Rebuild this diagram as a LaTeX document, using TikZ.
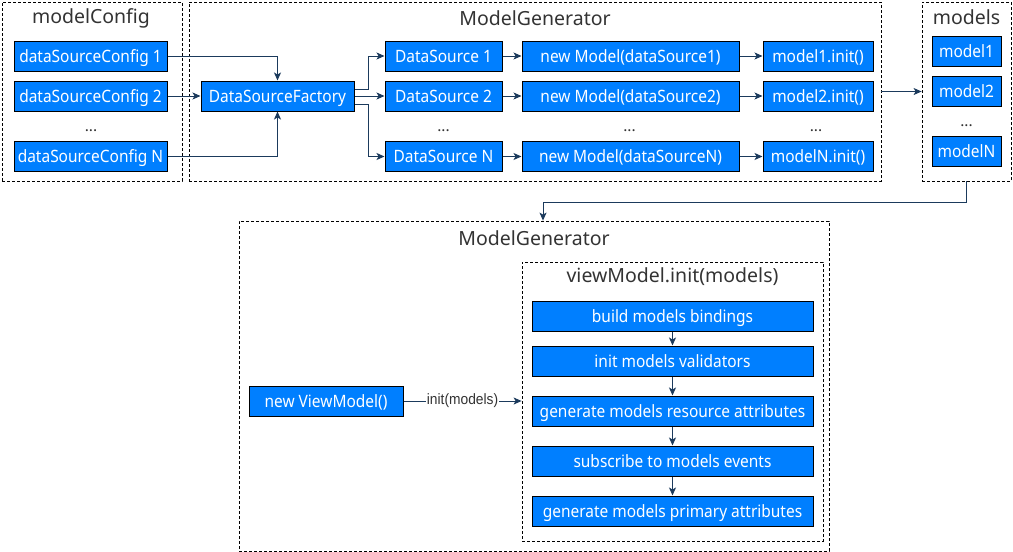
\documentclass[tikz,border=0pt]{standalone}
\usepackage{fontspec}
\setmainfont{Noto Sans}
\newfontfamily\boxfont[FakeStretch=0.91]{Noto Sans}
\newfontfamily\lblfont[FakeStretch=0.92]{Liberation Sans}
\usetikzlibrary{arrows.meta,positioning}

\definecolor{boxblue}{HTML}{007FFF}
\definecolor{linknavy}{HTML}{1B3A5C}
\definecolor{titlegray}{HTML}{333333}

\tikzset{
    block/.style = {
        rectangle,
        minimum width=153pt,
        minimum height=30pt,
        inner sep=0pt,
        text height=13pt,
        text depth=0.5pt,
        align=center,
        draw=black,
        line width=1pt,
        fill=boxblue,
        text=white,
        font=\boxfont\fontsize{17}{19}\selectfont
    },
    frame/.style = {
        rectangle,
        draw=black,
        line width=0.8pt,
        dash pattern=on 3pt off 2pt,
        inner sep=0pt
    },
    title/.style = {
        text=titlegray,
        font=\fontsize{19.5}{21}\selectfont
    },
    dots/.style = {
        text=titlegray,
        font=\fontsize{15.5}{17}\selectfont
    },
    arrow/.style = {
        draw=linknavy,
        line width=1pt,
        -{Stealth[length=8pt,width=7pt,inset=2pt]}
    }
}

\begin{document}
\begin{tikzpicture}[x=1pt, y=-1pt]

\useasboundingbox (0,0) rectangle (1013,552);

% frames
\node (cfgframe) [frame, minimum width=180pt, minimum height=179pt] at (92,91.5) {};
\node (genframe) [frame, minimum width=692pt, minimum height=179pt] at (535,91.5) {};
\node (mdlframe) [frame, minimum width=89pt, minimum height=179pt] at (966.5,91.5) {};
\node (lowframe) [frame, minimum width=590pt, minimum height=330pt] at (534,386) {};
\node (vmframe) [frame, minimum width=301pt, minimum height=279pt] at (672.5,401.5) {};

\node (cfgtitle) [title] at (91,18) {modelConfig};
\node (gentitle) [title] at (535,18) {ModelGenerator};
\node (mdltitle) [title] at (966.5,17) {models};
\node (lowtitle) [title] at (534,238) {ModelGenerator};
\node (vmtitle) [title] at (672.5,277) {viewModel.init(models)};

% modelConfig
\node (dsc1) [block] at (90.5,56) {dataSourceConfig 1};
\node (dsc2) [block] at (90.5,96) {dataSourceConfig 2};
\node (dscdots) [dots] at (91,131) {...};
\node (dscN) [block] at (90.5,156.5) {dataSourceConfig N};

% ModelGenerator
\node (dsf) [block] at (277.5,96) {DataSourceFactory};
\node (ds1) [block, minimum width=117pt] at (443.5,56) {DataSource 1};
\node (ds2) [block, minimum width=117pt] at (443.5,96) {DataSource 2};
\node (dsdots) [dots] at (443.5,131) {...};
\node (dsN) [block, minimum width=117pt] at (443.5,156.5) {DataSource N};

\node (nm1) [block, minimum width=217pt, right=19pt of ds1] {new Model(dataSource1)};
\node (nm2) [block, minimum width=217pt, right=19pt of ds2] {new Model(dataSource2)};
\node (nmdots) [dots] at (629.5,131) {...};
\node (nmN) [block, minimum width=217pt, right=19pt of dsN] {new Model(dataSourceN)};

\node (mi1) [block, minimum width=110pt, right=23pt of nm1] {model1.init()};
\node (mi2) [block, minimum width=110pt, right=23pt of nm2] {model2.init()};
\node (midots) [dots] at (816,131) {...};
\node (miN) [block, minimum width=110pt, right=23pt of nmN] {modelN.init()};

% models
\node (m1) [block, minimum width=69pt] at (966.5,51) {model1};
\node (m2) [block, minimum width=69pt] at (966.5,91) {model2};
\node (mdots) [dots] at (966.5,126) {...};
\node (mN) [block, minimum width=69pt] at (966.5,151) {modelN};

% lower ModelGenerator
\node (nvm) [block, minimum width=154pt] at (326,401) {new ViewModel()};
\node (st1) [block, minimum width=281pt] at (672.5,316) {build models bindings};
\node (st2) [block, minimum width=281pt] at (672.5,361) {init models validators};
\node (st3) [block, minimum width=281pt] at (672.5,411) {generate models resource attributes};
\node (st4) [block, minimum width=281pt] at (672.5,461) {subscribe to models events};
\node (st5) [block, minimum width=281pt] at (672.5,511) {generate models primary attributes};

% Arrows
\draw [arrow] (dsc1.east) -| (dsf.north);
\draw [arrow] (dsc2) -- (dsf);
\draw [arrow] (dscN.east) -| (dsf.south);

\draw [arrow] ([yshift=7pt]dsf.east) -- ++(14,0) |- (ds1.west);
\draw [arrow] (dsf) -- (ds2);
\draw [arrow] ([yshift=-8pt]dsf.east) -- ++(14,0) |- (dsN.west);

\draw [arrow] (ds1) -- (nm1);
\draw [arrow] (ds2) -- (nm2);
\draw [arrow] (dsN) -- (nmN);
\draw [arrow] (nm1) -- (mi1);
\draw [arrow] (nm2) -- (mi2);
\draw [arrow] (nmN) -- (miN);

\draw [arrow] (genframe.east) -- (mdlframe.west);
\draw [arrow] (mdlframe.south) -- ++(0,21) -| ([xshift=9pt]lowframe.north);

\draw [arrow] (nvm.east) -- node[fill=white, inner sep=1pt, text=titlegray, font=\lblfont\fontsize{15}{17}\selectfont] {init(models)} (nvm.east -| vmframe.west);

\draw [arrow] (st1) -- (st2);
\draw [arrow] (st2) -- (st3);
\draw [arrow] (st3) -- (st4);
\draw [arrow] (st4) -- (st5);

\end{tikzpicture}
\end{document}
